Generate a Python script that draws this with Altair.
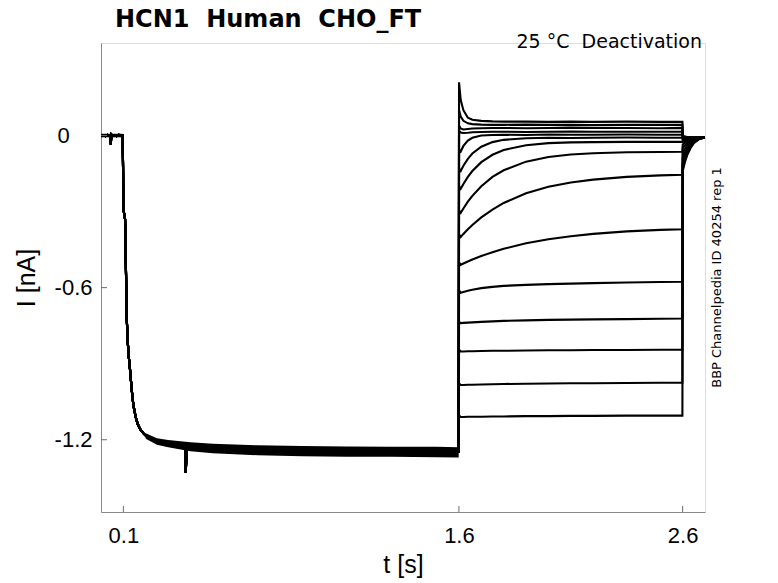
import altair as alt
import pandas as pd

# ---------------- data ----------------
# shared activation phase (all sweeps identical before 1.6 s)
act_t = [0.0, 0.01, 0.02, 0.03, 0.04, 0.044, 0.046, 0.05, 0.06, 0.07, 0.08, 0.09, 0.097,
         0.0985, 0.100, 0.104, 0.1075, 0.111, 0.115, 0.12, 0.125, 0.13, 0.137, 0.145,
         0.155, 0.165, 0.175, 0.19, 0.205, 0.225, 0.25, 0.28, 0.32, 0.36, 0.375, 0.379,
         0.383, 0.4, 0.5, 0.6, 0.7, 0.8, 0.9, 1.0, 1.1, 1.2, 1.3, 1.4, 1.5, 1.599]
act_i = [0.0, 0.002, -0.002, 0.003, 0.0, -0.035, 0.004, 0.0, 0.002, -0.002, 0.003, 0.0, 0.0,
         -0.12, -0.29, -0.31, -0.33, -0.50, -0.72, -0.82, -0.88, -0.925, -1.0, -1.065,
         -1.11, -1.14, -1.158, -1.175, -1.188, -1.198, -1.206, -1.213, -1.219, -1.223, -1.225, -1.33,
         -1.226, -1.228, -1.235, -1.240, -1.242, -1.244, -1.245, -1.246, -1.247, -1.246, -1.248,
         -1.247, -1.248, -1.248]

# noise envelope of the activation plateau and the baseline
band_t = [0.0, 0.097, None, 0.2, 0.25, 0.3, 0.4, 0.5, 0.7, 0.9, 1.1, 1.3, 1.5, 1.599]
band_hi = [0.007, 0.007, None, -1.174, -1.194, -1.201, -1.210, -1.216, -1.222, -1.225, -1.227, -1.228, -1.228, -1.230]
band_lo = [-0.007, -0.007, None, -1.196, -1.220, -1.230, -1.245, -1.253, -1.261, -1.265, -1.267, -1.267, -1.269, -1.270]
band_seg = ["base", "base", None, "plat", "plat", "plat", "plat", "plat", "plat", "plat", "plat", "plat", "plat", "plat"]

# deactivation steps (1.6 s - 2.6 s)
deact_t = [1.6005, 1.608, 1.62, 1.64, 1.66, 1.7, 1.75, 1.8, 1.9, 2.0, 2.1, 2.2, 2.35, 2.5, 2.599]
deact = {
    "s01": [0.21, 0.14, 0.10, 0.070, 0.062, 0.058, 0.056, 0.055, 0.055, 0.054, 0.055, 0.054, 0.055, 0.054, 0.054],
    "s02": [0.10, 0.075, 0.058, 0.048, 0.045, 0.043, 0.042, 0.042, 0.043, 0.042, 0.042, 0.041, 0.042, 0.042, 0.042],
    "s03": [0.04, 0.028, 0.024, 0.026, 0.028, 0.029, 0.030, 0.030, 0.029, 0.030, 0.031, 0.030, 0.030, 0.029, 0.030],
    "s04": [0.018, 0.012, 0.010, 0.011, 0.013, 0.014, 0.015, 0.015, 0.014, 0.015, 0.016, 0.015, 0.015, 0.015, 0.015],
    "s05": [-0.055, -0.063, -0.041, -0.020, -0.009, 0.000, 0.002, 0.003, 0.002, 0.004, 0.003, 0.003, 0.004, 0.003, 0.003],
    "s06": [-0.130, -0.140, -0.119, -0.092, -0.071, -0.044, -0.026, -0.017, -0.011, -0.009, -0.010, -0.009, -0.008, -0.009, -0.009],
    "s07": [-0.200, -0.210, -0.191, -0.163, -0.140, -0.105, -0.076, -0.057, -0.038, -0.030, -0.027, -0.026, -0.025, -0.025, -0.025],
    "s08": [-0.295, -0.305, -0.288, -0.261, -0.238, -0.200, -0.163, -0.137, -0.103, -0.085, -0.075, -0.070, -0.066, -0.065, -0.064],
    "s09": [-0.390, -0.400, -0.388, -0.370, -0.353, -0.323, -0.292, -0.266, -0.228, -0.202, -0.185, -0.174, -0.163, -0.157, -0.155],
    "s10": [-0.500, -0.510, -0.505, -0.497, -0.489, -0.475, -0.460, -0.447, -0.425, -0.409, -0.397, -0.388, -0.378, -0.372, -0.370],
    "s11": [-0.610, -0.620, -0.617, -0.612, -0.608, -0.602, -0.597, -0.593, -0.589, -0.586, -0.584, -0.582, -0.580, -0.578, -0.577],
    "s12": [-0.735, -0.740, -0.739, -0.738, -0.737, -0.735, -0.733, -0.731, -0.729, -0.727, -0.726, -0.725, -0.724, -0.723, -0.722],
    "s13": [-0.845, -0.852, -0.852, -0.851, -0.851, -0.850, -0.849, -0.849, -0.848, -0.847, -0.847, -0.846, -0.846, -0.845, -0.845],
    "s14": [-0.978, -0.984, -0.984, -0.983, -0.983, -0.982, -0.981, -0.980, -0.979, -0.978, -0.977, -0.977, -0.976, -0.975, -0.975],
    "s15": [-1.104, -1.110, -1.110, -1.109, -1.109, -1.109, -1.108, -1.108, -1.107, -1.107, -1.106, -1.106, -1.105, -1.105, -1.105],
}

# tail currents after 2.6 s
tail_t = [2.6005, 2.61, 2.62, 2.635, 2.65, 2.67, 2.69, 2.70]
tail = {
    "s01": [-0.002, -0.004, -0.006, -0.007, -0.008, -0.008, -0.008, -0.008],
    "s02": [-0.004, -0.005, -0.006, -0.007, -0.008, -0.008, -0.008, -0.008],
    "s03": [-0.006, -0.007, -0.007, -0.008, -0.008, -0.008, -0.008, -0.008],
    "s04": [-0.008, -0.008, -0.008, -0.008, -0.008, -0.008, -0.008, -0.008],
    "s05": [-0.012, -0.011, -0.010, -0.009, -0.009, -0.008, -0.008, -0.008],
    "s06": [-0.018, -0.015, -0.013, -0.011, -0.010, -0.009, -0.008, -0.008],
    "s07": [-0.025, -0.020, -0.016, -0.013, -0.011, -0.009, -0.008, -0.008],
    "s08": [-0.035, -0.028, -0.022, -0.016, -0.012, -0.010, -0.008, -0.008],
    "s09": [-0.050, -0.039, -0.030, -0.021, -0.015, -0.011, -0.009, -0.008],
    "s10": [-0.070, -0.053, -0.040, -0.027, -0.018, -0.012, -0.009, -0.008],
    "s11": [-0.090, -0.068, -0.051, -0.033, -0.021, -0.013, -0.009, -0.008],
    "s12": [-0.110, -0.083, -0.062, -0.040, -0.024, -0.014, -0.009, -0.008],
    "s13": [-0.120, -0.090, -0.067, -0.043, -0.026, -0.015, -0.010, -0.008],
    "s14": [-0.130, -0.098, -0.073, -0.047, -0.028, -0.015, -0.010, -0.008],
    "s15": [-0.140, -0.105, -0.078, -0.050, -0.030, -0.016, -0.010, -0.008],
}

x_ticks = [0.1, 1.6, 2.6]
y_ticks = [0.0, -0.6, -1.2]
# the "0" label sits left of the others in the reference (trailing spaces kept with a zero-width char)
y_tick_labels = ["0\u2007\u00a0\u2009\u200b", "-0.6", "-1.2"]

title_text = "HCN1 \u00a0Human \u00a0CHO_FT"
cond_text = "25 °C \u00a0Deactivation"
side_text = "BBP Channelpedia ID 40254 rep 1"

# ---------------- build tables ----------------
rows = []
for name in deact:
    for t, v in zip(act_t, act_i):
        rows.append({"sweep": name, "t": t, "I": v})
    for t, v in zip(deact_t, deact[name]):
        rows.append({"sweep": name, "t": t, "I": v})
    for t, v in zip(tail_t, tail[name]):
        rows.append({"sweep": name, "t": t, "I": v})
traces = pd.DataFrame(rows)

band = pd.DataFrame({"t": band_t, "hi": band_hi, "lo": band_lo, "seg": band_seg}).dropna()

W, H = 604, 469
FONT = "DejaVu Sans"
AX = "#6a6a6a"
TXT = "#262626"

xscale = alt.Scale(domain=[0, 2.7], nice=False, zero=False)
yscale = alt.Scale(domain=[-1.485, 0.365], nice=False, zero=False)

label_expr = " : ".join(
    f"datum.value == {v} ? '{lab}'" for v, lab in zip(y_ticks, y_tick_labels)
) + " : ''"

xaxis = alt.Axis(values=x_ticks, format=".1f", ticks=False, tickSize=0, grid=False,
                 labelFontSize=22, labelPadding=13, labelFlush=False, labelOverlap=False,
                 title="t [s]", titleFontSize=25, titleFontWeight="normal",
                 titleX=W / 2, titleY=60, titleBaseline="alphabetic", titleAlign="center")
yaxis = alt.Axis(values=y_ticks, labelExpr=label_expr, ticks=False, tickSize=0, grid=False,
                 labelFontSize=22, labelPadding=9, labelFlush=False, labelOverlap=False,
                 title="I [nA]", titleFontSize=25, titleFontWeight="normal",
                 titleX=-66.5, titleY=H / 2, titleAngle=270, titleBaseline="alphabetic",
                 titleAlign="center")

lines = alt.Chart(traces).mark_line(color="black", strokeWidth=2.1, clip=True).encode(
    x=alt.X("t:Q", scale=xscale, axis=xaxis),
    y=alt.Y("I:Q", scale=yscale, axis=yaxis),
    detail="sweep:N",
    order="t:Q",
)

band_layer = alt.Chart(band).mark_area(color="black").encode(
    x=alt.X("t:Q", scale=xscale),
    y=alt.Y("hi:Q", scale=yscale),
    y2="lo:Q",
    detail="seg:N",
)

xt = alt.Chart(pd.DataFrame({"v": x_ticks})).mark_rule(color=AX, strokeWidth=1).encode(
    x=alt.X("v:Q", scale=xscale), y=alt.value(H), y2=alt.value(H - 6))
yt = alt.Chart(pd.DataFrame({"v": y_ticks})).mark_rule(color=AX, strokeWidth=1).encode(
    y=alt.Y("v:Q", scale=yscale), x=alt.value(0), x2=alt.value(6))

title_layer = alt.Chart(pd.DataFrame({"s": [title_text]})).mark_text(
    font=FONT, fontSize=24, fontWeight="bold", align="left", baseline="alphabetic", color="black"
).encode(text="s:N", x=alt.value(14), y=alt.value(-16.3))

cond_layer = alt.Chart(pd.DataFrame({"s": [cond_text]})).mark_text(
    font=FONT, fontSize=19, align="right", baseline="alphabetic", color="black"
).encode(text="s:N", x=alt.value(601), y=alt.value(4.5))

side_layer = alt.Chart(pd.DataFrame({"s": [side_text]})).mark_text(
    font=FONT, fontSize=13, align="center", baseline="middle", angle=270, color="black"
).encode(text="s:N", x=alt.value(615.7), y=alt.value(H / 2))

chart = alt.layer(band_layer, lines, xt, yt, title_layer, cond_layer, side_layer).properties(
    width=W, height=H,
    autosize=alt.AutoSizeParams(type="none"),
    padding={"left": 93, "top": 35, "right": 65, "bottom": 66},
).configure_view(stroke=None).configure_axis(
    domainColor=AX, domainWidth=1, labelColor=TXT, titleColor=TXT,
    labelFont=FONT, titleFont=FONT,
).configure(background="white")

chart.save("out.html", embed_options={"renderer": "svg", "actions": False})
